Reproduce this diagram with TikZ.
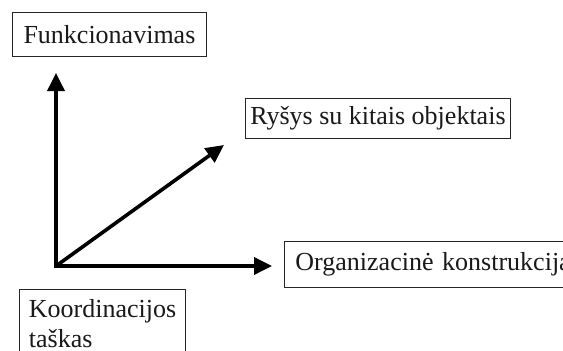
\documentclass[tikz,border=0pt]{standalone}
\usepackage{fontspec}
\setmainfont{Liberation Serif}
\usetikzlibrary{arrows.meta}
\begin{document}
\begin{tikzpicture}[x=1pt,y=1pt,
  box/.style={draw=black!85, line width=0.9pt, inner sep=0pt, font=\fontsize{26}{30}\selectfont, text=black!90},
  arr/.style={line width=3.6pt, line cap=rect, -{Triangle[length=18pt,width=17pt]}}]
\useasboundingbox (0,0) rectangle (563,-351);
\clip (0,0) rectangle (563,-351);
\fill[white] (0,0) rectangle (563,-351);
\node[box, anchor=north west, minimum width=194, minimum height=44] (f) at (12,-12) {Funkcionavimas};
\node[box, anchor=north west, minimum width=265, minimum height=40] (r) at (245,-98) {Ryšys su kitais objektais};
\node[box, anchor=north west, minimum height=46, text width=300, inner xsep=11, align=left] (o) at (284,-241) {Organizacinė konstrukcija};
\node[box, anchor=north west, inner xsep=9.5, inner ysep=10, align=left] (k) at (19,-289) {Koordinacijos\\taškas};
\coordinate (c) at (56,-266);
\coordinate (tv) at (56,-73);
\coordinate (th) at (272,-266);
\coordinate (td) at (224,-145);
\draw[arr] (c) -- (tv);
\draw[arr] (c) -- (th);
\draw[arr, line cap=butt] (c) -- (td);
\end{tikzpicture}
\end{document}
